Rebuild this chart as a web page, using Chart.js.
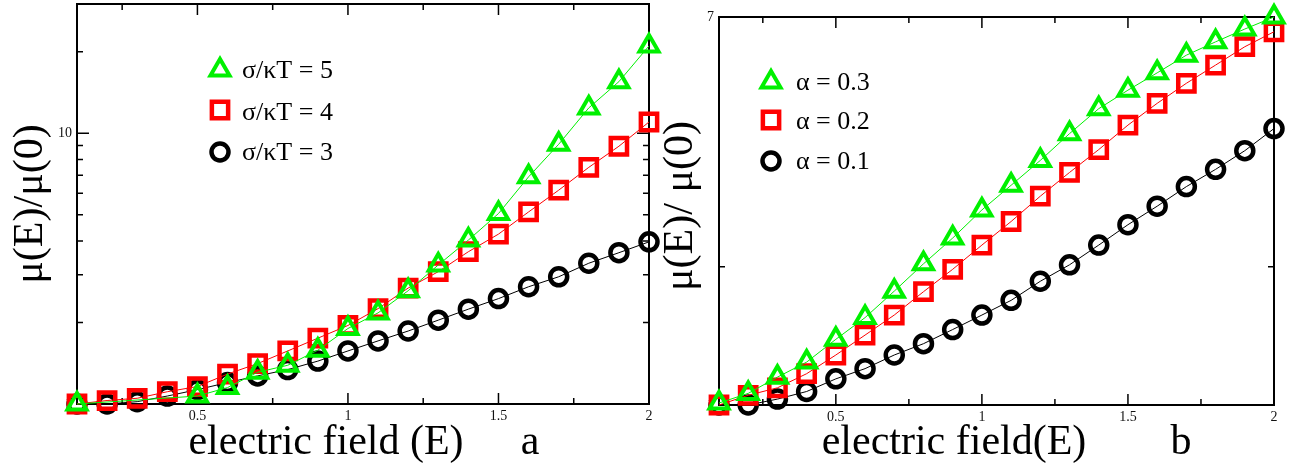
<!DOCTYPE html>
<html>
<head>
<meta charset="utf-8">
<script src="https://cdn.jsdelivr.net/npm/chart.js@4/dist/chart.umd.min.js"></script>
<style>
  html, body { margin: 0; padding: 0; background: #fff; }
  #wrap { position: relative; width: 1297px; height: 467px; overflow: hidden; background: #fff; }
  canvas { position: absolute; top: 0; }
  #panelA { left: 0; }
  #panelB { left: 650px; }
</style>
</head>
<body>
<div id="wrap">
  <canvas id="panelA" width="680" height="467"></canvas>
  <canvas id="panelB" width="647" height="467"></canvas>
</div>
<script>
// ---- panel a: mobility ratio vs electric field, three sigma/kT values ----
const fieldA  = [0.1, 0.2, 0.3, 0.4, 0.5, 0.6, 0.7, 0.8, 0.9, 1.0, 1.1, 1.2, 1.3, 1.4, 1.5, 1.6, 1.7, 1.8, 1.9, 2.0];
const fieldA5 = [0.1, 0.5, 0.6, 0.7, 0.8, 0.9, 1.0, 1.1, 1.2, 1.3, 1.4, 1.5, 1.6, 1.7, 1.8, 1.9, 2.0];
const mobA5 = [1.0, 1.07, 1.15, 1.31, 1.39, 1.58, 1.9, 2.17, 2.62, 3.26, 4.03, 5.05, 6.9, 9.1, 12.4, 15.5, 21.0];
const mobA4 = [1.0, 1.03, 1.05, 1.11, 1.16, 1.29, 1.41, 1.57, 1.75, 1.95, 2.25, 2.68, 3.08, 3.65, 4.24, 5.12, 6.16, 7.48, 8.95, 11.0];
const mobA3 = [1.0, 1.0, 1.02, 1.07, 1.13, 1.2, 1.27, 1.34, 1.44, 1.57, 1.71, 1.86, 2.04, 2.24, 2.45, 2.71, 2.95, 3.31, 3.62, 3.97];
const labelsA = ['σ/κT = 5', 'σ/κT = 4', 'σ/κT = 3'];

// ---- panel b: mobility ratio vs electric field, three alpha values ----
const fieldB = [0.1, 0.2, 0.3, 0.4, 0.5, 0.6, 0.7, 0.8, 0.9, 1.0, 1.1, 1.2, 1.3, 1.4, 1.5, 1.6, 1.7, 1.8, 1.9, 2.0];
const mobB3 = [1.01, 1.06, 1.15, 1.24, 1.39, 1.55, 1.77, 2.03, 2.31, 2.66, 3.01, 3.41, 3.9, 4.42, 4.85, 5.29, 5.78, 6.18, 6.59, 7.0];
const mobB2 = [1.0, 1.05, 1.09, 1.17, 1.285, 1.42, 1.57, 1.765, 1.975, 2.23, 2.51, 2.85, 3.21, 3.6, 4.07, 4.54, 5.02, 5.5, 6.03, 6.5];
const mobB1 = [1.0, 1.0, 1.03, 1.07, 1.14, 1.2, 1.285, 1.36, 1.46, 1.57, 1.69, 1.86, 2.02, 2.23, 2.47, 2.71, 2.99, 3.26, 3.58, 4.0];
const labelsB = ['α = 0.3', 'α = 0.2', 'α = 0.1'];

// ---- axis ticks ----
const xMajor = [0.5, 1, 1.5, 2];
const xMinor = [0.25, 0.75, 1.25, 1.75];
const yMajorA = [1, 10];
const yMinorA = [2, 3, 4, 5, 6, 7, 8, 9, 20];
const yMajorB = [1, 7];
const yMinorB = [2];

const SERIF = '"Liberation Serif", "DejaVu Serif", "Times New Roman", serif';
const GREEN = '#00f000';
const RED = '#ff0000';
const BLACK = '#000000';

const pts = (xs, ys) => xs.map((x, i) => ({ x: x, y: ys[i] }));

const marker = {
  triangle: { pointStyle: 'triangle', radius: 11, width: 4 },
  rect:     { pointStyle: 'rect',     radius: 11.5, width: 4.5 },
  circle:   { pointStyle: 'circle',   radius: 8.5, width: 4.5 }
};

function series(label, data, color, m) {
  return {
    label: label,
    data: data,
    showLine: true,
    borderColor: color,
    borderWidth: 1,
    tension: 0,
    pointStyle: m.pointStyle,
    pointRadius: m.radius,
    pointHoverRadius: m.radius,
    pointBorderWidth: m.width,
    pointBorderColor: color,
    pointBackgroundColor: 'rgba(0,0,0,0)',
    clip: false
  };
}

// frame and inward tick marks, placed through the chart's own scales
const framePlugin = {
  id: 'frame',
  beforeDatasetsDraw(chart, args, o) {
    const { ctx, chartArea: a, scales } = chart;
    const sx = scales.x, sy = scales.y;
    ctx.save();
    ctx.strokeStyle = '#000';
    ctx.lineWidth = 1.5;
    ctx.beginPath();
    const xt = (vals, len) => vals.forEach(v => {
      const p = sx.getPixelForValue(v);
      ctx.moveTo(p, a.bottom); ctx.lineTo(p, a.bottom - len);
      ctx.moveTo(p, a.top);    ctx.lineTo(p, a.top + len);
    });
    const yt = (vals, len) => vals.forEach(v => {
      const p = sy.getPixelForValue(v);
      ctx.moveTo(a.left, p);  ctx.lineTo(a.left + len, p);
      ctx.moveTo(a.right, p); ctx.lineTo(a.right - len, p);
    });
    xt(o.xMajor, 11); xt(o.xMinor, 6);
    yt(o.yMajor, 12); yt(o.yMinor, 6);
    ctx.stroke();
    ctx.lineWidth = 2;
    ctx.strokeRect(a.left, a.top, a.right - a.left, a.bottom - a.top);
    ctx.restore();
  }
};

function drawMarker(ctx, m, color, x, y) {
  ctx.save();
  ctx.strokeStyle = color;
  ctx.fillStyle = 'rgba(0,0,0,0)';
  ctx.lineWidth = m.width;
  if (Chart.helpers && Chart.helpers.drawPoint) {
    Chart.helpers.drawPoint(ctx, { pointStyle: m.pointStyle, radius: m.radius, rotation: 0, borderWidth: m.width }, x, y);
  } else {
    ctx.beginPath();
    ctx.arc(x, y, m.radius, 0, Math.PI * 2);
    ctx.stroke();
  }
  ctx.restore();
}

// axis titles, panel letter and the in-plot legend
const notesPlugin = {
  id: 'notes',
  afterDraw(chart, args, o) {
    const ctx = chart.ctx;
    ctx.save();
    ctx.fillStyle = '#000';
    ctx.textBaseline = 'alphabetic';
    ctx.font = o.titleSize + 'px ' + SERIF;
    ctx.textAlign = 'center';
    ctx.fillText(o.xTitle, o.xTitleX, o.xTitleY);
    ctx.fillText(o.letter, o.letterX, o.xTitleY);
    ctx.save();
    ctx.translate(o.yTitleX, o.yTitleY);
    ctx.rotate(-Math.PI / 2);
    ctx.fillText(o.yTitle, 0, 0);
    ctx.restore();

    const ds = chart.data.datasets;
    const marks = [marker.triangle, marker.rect, marker.circle];
    ctx.font = o.legendSize + 'px ' + SERIF;
    ctx.textAlign = 'left';
    ds.forEach((d, i) => {
      drawMarker(ctx, marks[i], d.borderColor, o.legendX, o.legendY[i]);
      ctx.fillStyle = '#000';
      ctx.fillText(d.label, o.legendTextX, o.legendBase[i]);
    });
    ctx.restore();
  }
};

function makeChart(id, datasets, box, axes, notes) {
  return new Chart(document.getElementById(id), {
    type: 'scatter',
    data: { datasets: datasets },
    options: {
      responsive: false,
      animation: false,
      devicePixelRatio: 1,
      events: [],
      layout: { autoPadding: false, padding: { left: 0, right: box.right, top: box.top, bottom: 0 } },
      plugins: {
        legend: { display: false },
        tooltip: { enabled: false },
        frame: { xMajor: xMajor, xMinor: xMinor, yMajor: axes.yMajor, yMinor: axes.yMinor },
        notes: notes
      },
      scales: {
        x: {
          type: 'linear', min: 0.1, max: 2, position: 'bottom',
          grid: { display: false, drawTicks: false },
          border: { display: false },
          afterBuildTicks: s => { s.ticks = xMajor.map(v => ({ value: v })); },
          afterFit: s => { s.height = box.xHeight; s.paddingLeft = 0; s.paddingRight = 0; },
          ticks: {
            autoSkip: false, maxRotation: 0, padding: 4, color: '#111',
            font: { family: SERIF, size: 14 },
            callback: v => String(v)
          }
        },
        y: {
          type: 'logarithmic', min: 1, max: axes.yMax, position: 'left',
          grid: { display: false, drawTicks: false },
          border: { display: false },
          afterBuildTicks: s => { s.ticks = axes.yMajor.map(v => ({ value: v })); },
          afterFit: s => { s.width = box.yWidth; s.paddingTop = 0; s.paddingBottom = 0; },
          ticks: {
            autoSkip: false, padding: 5, color: '#111',
            font: { family: SERIF, size: 14 },
            callback: v => String(v)
          }
        }
      }
    },
    plugins: [framePlugin, notesPlugin]
  });
}

makeChart('panelA', [
    series(labelsA[0], pts(fieldA5, mobA5), GREEN, marker.triangle),
    series(labelsA[1], pts(fieldA, mobA4), RED, marker.rect),
    series(labelsA[2], pts(fieldA, mobA3), BLACK, marker.circle)
  ],
  { right: 31, top: 4, xHeight: 63, yWidth: 77 },
  { yMax: 30, yMajor: yMajorA, yMinor: yMinorA },
  {
    titleSize: 42, xTitle: 'electric field (E)', xTitleX: 326, xTitleY: 454,
    letter: 'a', letterX: 530,
    yTitle: 'μ(E)/μ(0)', yTitleX: 42, yTitleY: 204,
    legendSize: 26, legendX: 220, legendY: [70, 110, 152],
    legendTextX: 242, legendBase: [78, 120, 160]
  });

makeChart('panelB', [
    series(labelsB[0], pts(fieldB, mobB3), GREEN, marker.triangle),
    series(labelsB[1], pts(fieldB, mobB2), RED, marker.rect),
    series(labelsB[2], pts(fieldB, mobB1), BLACK, marker.circle)
  ],
  { right: 23, top: 17, xHeight: 62, yWidth: 69 },
  { yMax: 7, yMajor: yMajorB, yMinor: yMinorB },
  {
    titleSize: 42, xTitle: 'electric field(E)', xTitleX: 304, xTitleY: 454,
    letter: 'b', letterX: 531,
    yTitle: 'μ(E)/ μ(0)', yTitleX: 42, yTitleY: 206,
    legendSize: 26, legendX: 121, legendY: [82, 120, 161],
    legendTextX: 146, legendBase: [90, 129, 169]
  });
</script>
</body>
</html>
